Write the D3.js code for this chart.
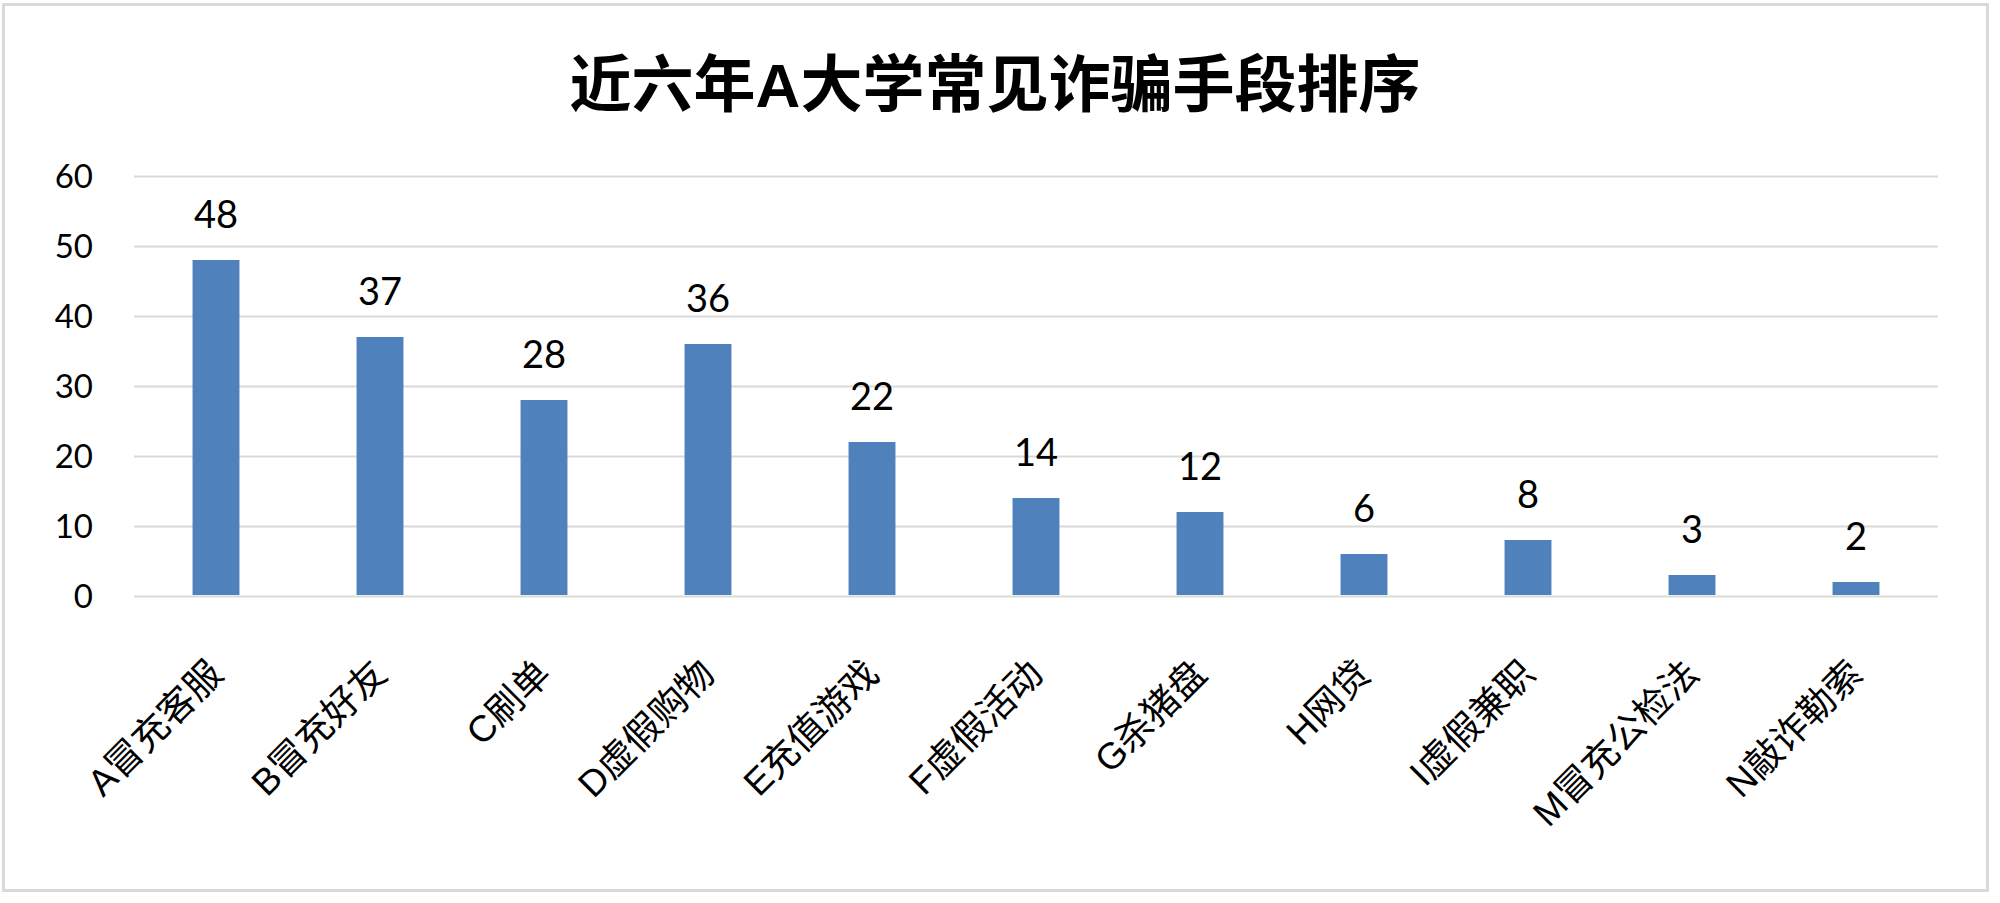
<!DOCTYPE html>
<html lang="zh">
<head>
    <meta charset="UTF-8">
    <title>近六年A大学常见诈骗手段排序</title>
    <script src="https://d3js.org/d3.v7.min.js"></script>
    <style>
        body { margin: 0; background: #fff; }
        .grid line { stroke: #d9d9d9; stroke-width: 2px; }
        .grid text { font-family: Lato, "Open Sans", sans-serif; font-size: 33px; fill: #000; }
        .bar { fill: #4f81bd; }
        .value { font-family: Lato, "Open Sans", sans-serif; font-size: 38px; fill: #000; }
        .cat { font-family: "Liberation Sans", "Noto Sans CJK SC", sans-serif; font-size: 37px; fill: #000; }
        .title { font-family: "Liberation Sans", "Noto Sans CJK SC", sans-serif; font-size: 62px; font-weight: bold; fill: #000; }
    </style>
</head>
<body>
    <div id="chart"></div>
    <script>
        var title = "近六年A大学常见诈骗手段排序";
        var categories = ["A冒充客服", "B冒充好友", "C刷单", "D虚假购物", "E充值游戏", "F虚假活动",
                          "G杀猪盘", "H网贷", "I虚假兼职", "M冒充公检法", "N敲诈勒索"];
        var values = [48, 37, 28, 36, 22, 14, 12, 6, 8, 3, 2];
        var yTicks = [0, 10, 20, 30, 40, 50, 60];

        var width = 2000, height = 903;
        var margin = { top: 176, right: 62, bottom: 307, left: 134 };

        var svg = d3.select("#chart").append("svg")
            .attr("width", width)
            .attr("height", height);

        // chart frame
        svg.append("rect")
            .attr("x", 3.5).attr("y", 4.5)
            .attr("width", 1984).attr("height", 886)
            .attr("fill", "#fff")
            .attr("stroke", "#d9d9d9")
            .attr("stroke-width", 3);

        svg.append("text")
            .attr("class", "title")
            .attr("x", 995)
            .attr("y", 107)
            .attr("text-anchor", "middle")
            .text(title);

        var x = d3.scaleBand()
            .domain(categories)
            .range([margin.left, width - margin.right])
            .paddingInner(0.714)
            .paddingOuter(0.357);

        var y = d3.scaleLinear()
            .domain([0, 60])
            .range([height - margin.bottom, margin.top]);

        var plotW = width - margin.left - margin.right;

        svg.append("g")
            .attr("class", "grid")
            .attr("transform", `translate(${margin.left},0)`)
            .call(d3.axisLeft(y).tickValues(yTicks).tickSize(-plotW).tickPadding(41))
            .call(g => g.select(".domain").remove())
            .call(g => g.selectAll("text").attr("dy", "0.35em"));

        svg.selectAll(".bar")
            .data(values)
            .enter().append("rect")
            .attr("class", "bar")
            .attr("x", (d, i) => x(categories[i]))
            .attr("y", d => y(d))
            .attr("width", x.bandwidth())
            .attr("height", d => y(0) - y(d) - 1);

        svg.selectAll(".value")
            .data(values)
            .enter().append("text")
            .attr("class", "value")
            .attr("x", (d, i) => x(categories[i]) + x.bandwidth() / 2)
            .attr("y", d => y(d) - 32)
            .attr("text-anchor", "middle")
            .text(d => d);

        svg.selectAll(".cat")
            .data(categories)
            .enter().append("text")
            .attr("class", "cat")
            .attr("text-anchor", "end")
            .attr("transform", d => `translate(${x(d) + x.bandwidth() / 2 + 9},${y(0) + 80}) rotate(-45)`)
            .text(d => d);
    </script>
</body>
</html>
